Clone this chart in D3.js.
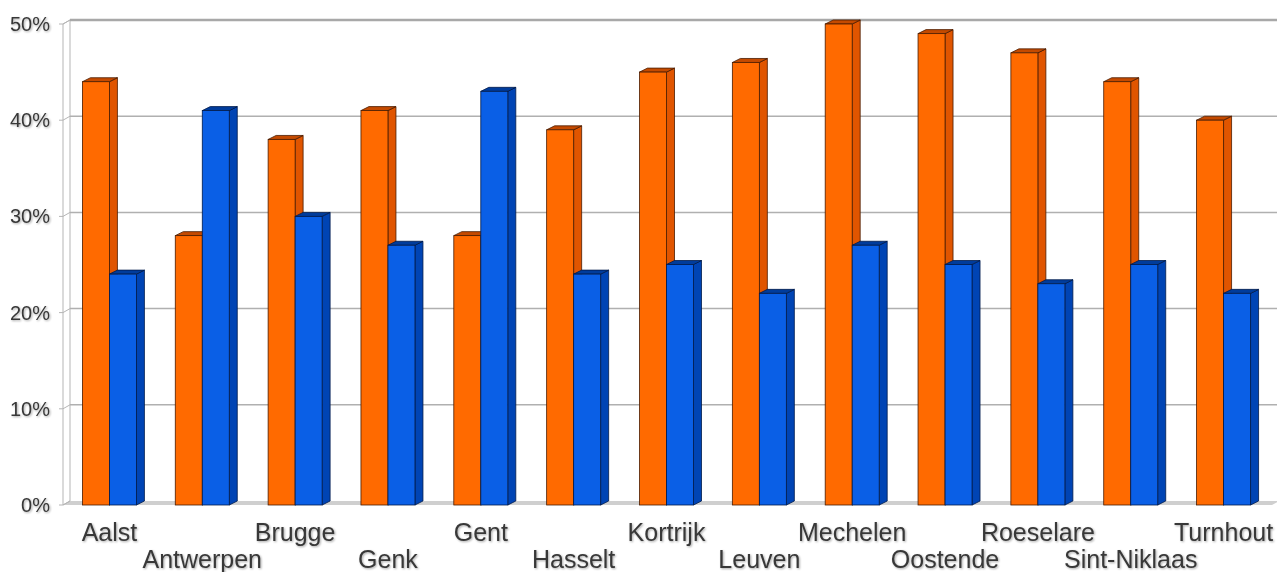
<!DOCTYPE html>
<html>
<head>
<meta charset="utf-8">
<script src="https://cdn.jsdelivr.net/npm/d3@7"></script>
<style>
  html, body { margin: 0; padding: 0; background: #fff; }
  svg { display: block; }
  text { font-family: "Liberation Sans", Arial, sans-serif; fill: #383838; }
</style>
</head>
<body>
<svg id="chart" width="1277" height="572"></svg>
<script>
// Share per city, two series
const categories = ["Aalst", "Antwerpen", "Brugge", "Genk", "Gent", "Hasselt", "Kortrijk",
                    "Leuven", "Mechelen", "Oostende", "Roeselare", "Sint-Niklaas", "Turnhout"];
const seriesOrange = [44, 28, 38, 41, 28, 39, 45, 46, 50, 49, 47, 44, 40];
const seriesBlue   = [24, 41, 30, 27, 43, 24, 25, 22, 27, 25, 23, 25, 22];
const tickValues = [0, 10, 20, 30, 40, 50];
const tickLabels = ["0%", "10%", "20%", "30%", "40%", "50%"];

const svg = d3.select("#chart");

// Front plane geometry and 3D depth offsets
const plotLeft = 63, plotRight = 1270, plotBottom = 505, plotTop = 24;
const wallDX = 7, wallDY = -4;
const barDX = 8, barDY = -4;
const groupWidth = 54;

const x0 = d3.scaleBand().domain(categories).range([plotLeft, plotRight]).padding(0);
const x1 = d3.scaleBand().domain(["orange", "blue"])
  .range([(x0.step() - groupWidth) / 2, (x0.step() + groupWidth) / 2]);
const y = d3.scaleLinear().domain([0, 50]).range([plotBottom, plotTop]);

// Soft text shadow
const defs = svg.append("defs");
const f = defs.append("filter").attr("id", "soft").attr("x", "-5%").attr("y", "-20%")
  .attr("width", "110%").attr("height", "140%");
f.append("feGaussianBlur").attr("in", "SourceAlpha").attr("stdDeviation", 0.8).attr("result", "b");
f.append("feOffset").attr("in", "b").attr("dx", 0.6).attr("dy", 0.6).attr("result", "o");
f.append("feComponentTransfer").attr("in", "o").attr("result", "s")
  .append("feFuncA").attr("type", "linear").attr("slope", 0.35);
const m = f.append("feMerge");
m.append("feMergeNode").attr("in", "s");
m.append("feMergeNode").attr("in", "SourceGraphic");

// Floor
svg.append("polygon")
  .attr("points", [[plotLeft, plotBottom], [plotLeft + wallDX, plotBottom + wallDY],
                   [plotRight + wallDX + 2, plotBottom + wallDY], [plotRight + 2, plotBottom]].join(" "))
  .attr("fill", "#cfcfcf");

// Left wall
svg.append("polygon")
  .attr("points", [[plotLeft, y(50)], [plotLeft + wallDX, y(50) + wallDY],
                   [plotLeft + wallDX, plotBottom + wallDY], [plotLeft, plotBottom]].join(" "))
  .attr("fill", "#fff").attr("stroke", "#b5b5b5").attr("stroke-width", 1);

// Gridlines on the back wall, with short connectors across the side wall
const grid = svg.append("g");
tickValues.forEach(v => {
  const yy = y(v);
  grid.append("line")
    .attr("x1", plotLeft - 4).attr("y1", yy).attr("x2", plotLeft).attr("y2", yy)
    .attr("stroke", "#b5b5b5").attr("stroke-width", 1);
  grid.append("line")
    .attr("x1", plotLeft).attr("y1", yy).attr("x2", plotLeft + wallDX).attr("y2", yy + wallDY)
    .attr("stroke", "#b5b5b5").attr("stroke-width", 1);
  if (v > 0) {
    grid.append("line")
      .attr("x1", plotLeft + wallDX).attr("y1", yy + wallDY)
      .attr("x2", 1277).attr("y2", yy + wallDY)
      .attr("stroke", v === 50 ? "#a8a8a8" : "#b0b0b0")
      .attr("stroke-width", v === 50 ? 2.5 : 1.5);
  }
});

// Y tick labels
svg.append("g").attr("filter", "url(#soft)").selectAll("text")
  .data(tickValues)
  .join("text")
  .attr("x", 50)
  .attr("y", d => y(d) + 7)
  .attr("text-anchor", "end")
  .attr("font-size", 20)
  .text((d, i) => tickLabels[i]);

// 3D bars
const colors = {
  orange: { front: "#ff6a00", side: "#e05500", top: "#c44a00", stroke: "#4a1c00" },
  blue:   { front: "#0a5fe6", side: "#0044b4", top: "#003c9c", stroke: "#001a4a" }
};

function drawBar(g, xPos, w, v, c) {
  const yt = y(v), yb = y(0);
  g.append("polygon")
    .attr("points", [[xPos + w, yt], [xPos + w + barDX, yt + barDY],
                     [xPos + w + barDX, yb + barDY], [xPos + w, yb]].join(" "))
    .attr("fill", c.side).attr("stroke", c.stroke).attr("stroke-width", 0.8)
    .attr("stroke-linejoin", "round");
  g.append("polygon")
    .attr("points", [[xPos, yt], [xPos + barDX, yt + barDY],
                     [xPos + w + barDX, yt + barDY], [xPos + w, yt]].join(" "))
    .attr("fill", c.top).attr("stroke", c.stroke).attr("stroke-width", 0.8)
    .attr("stroke-linejoin", "round");
  g.append("rect")
    .attr("x", xPos).attr("y", yt)
    .attr("width", w).attr("height", yb - yt)
    .attr("fill", c.front).attr("stroke", c.stroke).attr("stroke-width", 0.8);
}

const bars = svg.append("g");
categories.forEach((cat, i) => {
  const g = bars.append("g");
  const gx = x0(cat);
  drawBar(g, gx + x1("orange"), x1.bandwidth(), seriesOrange[i], colors.orange);
  drawBar(g, gx + x1("blue"), x1.bandwidth(), seriesBlue[i], colors.blue);
});

// Category labels, staggered over two rows
svg.append("g").attr("filter", "url(#soft)").selectAll("text")
  .data(categories)
  .join("text")
  .attr("x", d => x0(d) + x0.bandwidth() / 2)
  .attr("y", (d, i) => i % 2 === 0 ? 541 : 568)
  .attr("text-anchor", "middle")
  .attr("font-size", 25)
  .text(d => d);
</script>
</body>
</html>
